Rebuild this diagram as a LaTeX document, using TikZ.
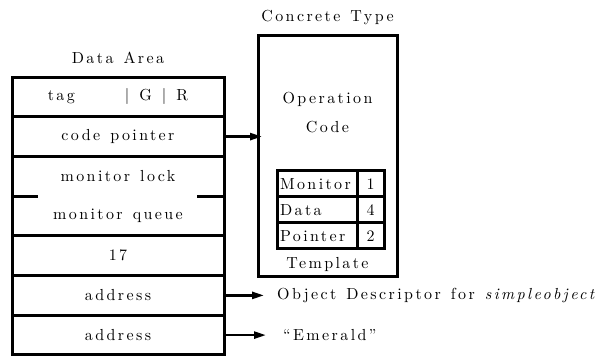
\documentclass[tikz,border=0pt]{standalone}
\usepackage{fontspec}
\usepackage{tikz}
\usetikzlibrary{arrows.meta,positioning}

\newfontfamily\wideface{lmroman10-regular.otf}[LetterSpace=15, WordSpace=1.3, ItalicFont=lmroman10-italic.otf]
\newcommand{\wide}{\wideface\fontsize{16}{19}\selectfont}

\begin{document}
\begin{tikzpicture}[x=1pt, y=1pt,
    cell/.style={draw, line width=3pt, outer sep=0pt, inner sep=0pt, minimum width=212pt, minimum height=39.7pt, font=\wide},
    half/.style={outer sep=0pt, inner sep=0pt, minimum width=212pt, minimum height=39.7pt, font=\wide},
    tname/.style={draw, line width=3pt, outer sep=0pt, inner sep=3pt, text width=74pt, minimum height=26pt, align=left, font=\wide},
    tval/.style={draw, line width=3pt, outer sep=0pt, inner sep=0pt, minimum width=27pt, minimum height=26pt, font=\wide},
    ttl/.style={font=\wide, inner sep=3pt},
    arr/.style={-{Triangle[length=12pt, width=7pt]}, line width=2.5pt}
]
\useasboundingbox (0,0) rectangle (602,356);

\node[ttl] (dtitle) at (118,298) {Data Area};
\node[cell] (tag) at (118,259.1) {tag\hspace{50pt}| G | R};
\node[cell, below=0pt of tag] (code) {code pointer};
\node[half, below=0pt of code] (lock) {monitor lock};
\node[half, below=0pt of lock] (queue) {monitor queue};
\node[cell, below=0pt of queue] (num) {17};
\node[cell, below=0pt of num] (addr1) {address};
\node[cell, below=0pt of addr1] (addr2) {address};
\draw[line width=3pt] (lock.north west) rectangle (queue.south east);
\draw[line width=3pt] (lock.south west) -- ++(26,0);
\draw[line width=3pt] (lock.south east) -- ++(-27,0);

\node[ttl] (ctitle) at (327.5,338) {Concrete Type};
\node[draw, line width=3pt, outer sep=0pt, minimum width=139pt, minimum height=241pt] (ct) at (327.5,199.5) {};
\node[ttl, align=center] (op) at (327.5,243.5) {Operation\\[10pt]Code};

\node[tname] (mon) at (317,172) {Monitor};
\node[tval, right=0pt of mon] (monv) {1};
\node[tname, below=0pt of mon] (dat) {Data};
\node[tval, right=0pt of dat] (datv) {4};
\node[tname, below=0pt of dat] (ptr) {Pointer};
\node[tval, right=0pt of ptr] (ptrv) {2};
\node[ttl] (tmpl) at (327.5,91) {Template};

\node[ttl, anchor=west, right=50pt of addr1] (obj) {Object Descriptor for \textit{simpleobject}};
\node[ttl, anchor=west, right=56pt of addr2] (em) {“Emerald”};

\draw[arr, shorten >=-4pt] (code.east) -- (code.east -| ct.west);
\draw[arr, shorten >=10pt] (addr1.east) -- (obj.west);
\draw[arr, shorten >=14pt] (addr2.east) -- (em.west);
\end{tikzpicture}
\end{document}
